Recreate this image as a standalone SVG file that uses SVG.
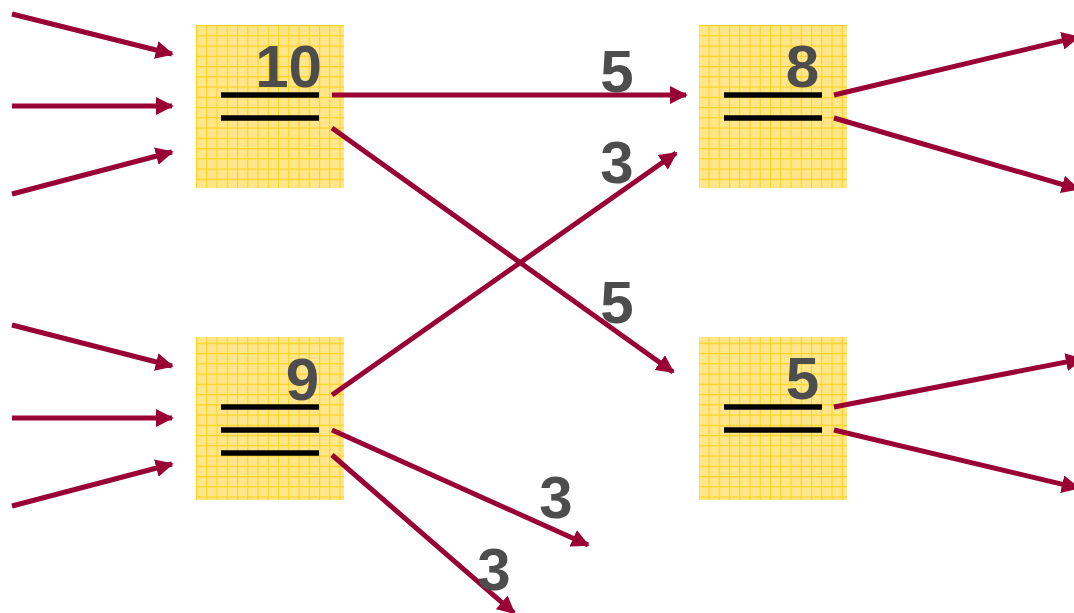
<svg xmlns="http://www.w3.org/2000/svg" width="1074" height="613" viewBox="0 0 1074 613">
<style>
.box{stroke:none}
.bar{stroke:#000;stroke-width:5.5}
.c{stroke:#990033;stroke-width:5;fill:none;marker-end:url(#ah)}
.num{font-family:"Liberation Sans",Arial,sans-serif;font-weight:bold;font-size:60px;fill:#4d4d4d;text-anchor:end}
.lbl{font-family:"Liberation Sans",Arial,sans-serif;font-weight:bold;font-size:60px;fill:#4d4d4d;text-anchor:middle}
</style>
<defs>
<pattern id="grid" patternUnits="userSpaceOnUse" width="10.25" height="10.25" x="196" y="25">
<rect width="10.25" height="10.25" fill="#ffe68a"/>
<path d="M0 0.5H10.25M0.5 0V10.25" stroke="#ffd21a" stroke-width="1.1"/>
</pattern>
<marker id="ah" viewBox="0 0 10 10" refX="9" refY="5" markerWidth="18" markerHeight="18" markerUnits="userSpaceOnUse" orient="auto">
<path d="M0 0L10 5L0 10Z" fill="#990033"/>
</marker>
</defs>
<rect width="1074" height="613" fill="#fff"/>
<g id="node-10">
<rect class="box" x="196" y="25" width="148" height="163" fill="url(#grid)"/>
<line class="bar" x1="221" y1="95" x2="319" y2="95"/>
<line class="bar" x1="221" y1="118" x2="319" y2="118"/>
<text class="num" x="322" y="87">10</text>
</g>
<g id="node-8">
<rect class="box" x="699" y="25" width="148" height="163" fill="url(#grid)"/>
<line class="bar" x1="724" y1="95" x2="822" y2="95"/>
<line class="bar" x1="724" y1="118" x2="822" y2="118"/>
<text class="num" x="819" y="87">8</text>
</g>
<g id="node-9">
<rect class="box" x="196" y="337" width="148" height="163" fill="url(#grid)"/>
<line class="bar" x1="221" y1="407" x2="319" y2="407"/>
<line class="bar" x1="221" y1="430" x2="319" y2="430"/>
<line class="bar" x1="221" y1="453" x2="319" y2="453"/>
<text class="num" x="319" y="400">9</text>
</g>
<g id="node-5">
<rect class="box" x="699" y="337" width="148" height="163" fill="url(#grid)"/>
<line class="bar" x1="724" y1="407" x2="822" y2="407"/>
<line class="bar" x1="724" y1="430" x2="822" y2="430"/>
<text class="num" x="819" y="399">5</text>
</g>
<g id="connectors">
<line class="c" x1="12" y1="14" x2="172" y2="54"/>
<line class="c" x1="12" y1="106" x2="172" y2="106"/>
<line class="c" x1="12" y1="194" x2="172" y2="152"/>
<line class="c" x1="12" y1="325" x2="172" y2="366"/>
<line class="c" x1="12" y1="418" x2="172" y2="418"/>
<line class="c" x1="12" y1="506" x2="172" y2="464"/>
<line class="c" x1="332" y1="95" x2="686" y2="95"/>
<line class="c" x1="332" y1="128" x2="673" y2="372"/>
<line class="c" x1="332" y1="395" x2="676" y2="153"/>
<line class="c" x1="332" y1="430" x2="588" y2="545"/>
<line class="c" x1="332" y1="455" x2="514" y2="613"/>
<line class="c" x1="834" y1="95" x2="1078" y2="37"/>
<line class="c" x1="834" y1="118" x2="1078" y2="189"/>
<line class="c" x1="834" y1="407" x2="1082" y2="359"/>
<line class="c" x1="834" y1="430" x2="1078" y2="488"/>
<text class="lbl" x="617" y="92">5</text>
<text class="lbl" x="617" y="183">3</text>
<text class="lbl" x="617" y="323">5</text>
<text class="lbl" x="556" y="518">3</text>
<text class="lbl" x="494" y="590">3</text>
</g>
</svg>
